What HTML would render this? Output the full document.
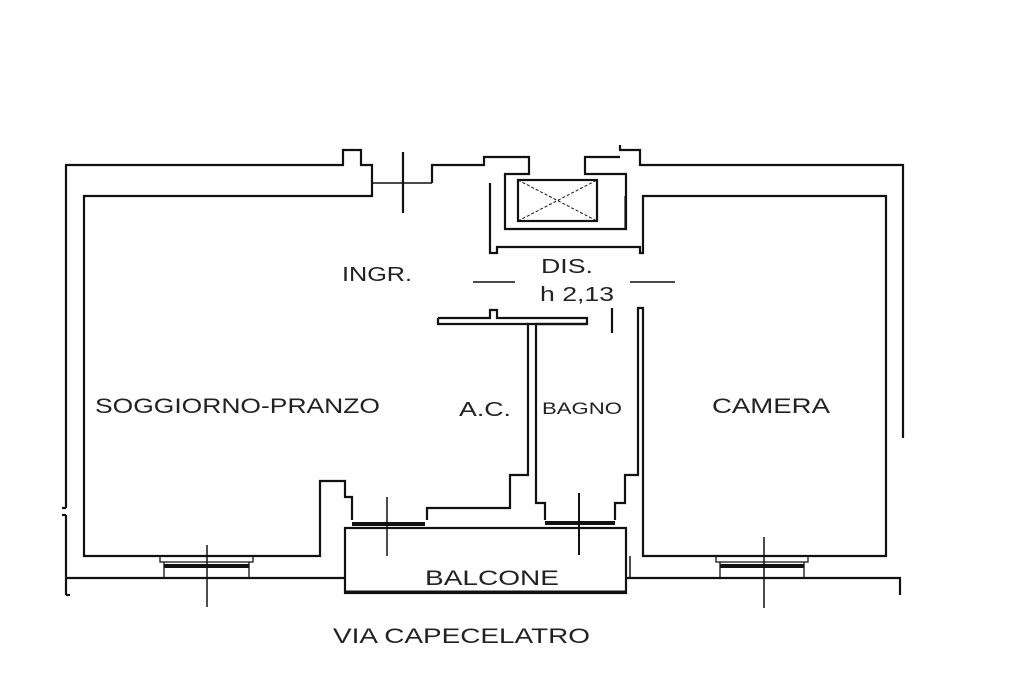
<!DOCTYPE html>
<html><head><meta charset="utf-8"><style>
html,body{margin:0;padding:0;background:#fff}
svg{display:block}
text{font-family:"Liberation Sans",sans-serif;fill:#222}
</style></head><body>
<svg width="1024" height="683" viewBox="0 0 1024 683" xmlns="http://www.w3.org/2000/svg">
<g fill="none" stroke="#111" stroke-width="2.2">
<!-- outer left/top -->
<polyline points="66,508 66,165 343,165 343,150 361,150 361,165 372,165 372,196 84,196 84,556 320,556 320,481 345,481 345,497 352,497 352,520"/>
<polyline points="66,515 66,595"/>
<line x1="66" y1="595" x2="70" y2="595"/>
<line x1="62" y1="508" x2="66" y2="508"/>
<line x1="62" y1="515" x2="66" y2="515"/>
<!-- entrance -->
<line x1="372" y1="183" x2="432" y2="183" stroke-width="1.5"/>
<line x1="403" y1="152" x2="403" y2="213"/>
<polyline points="432,183 432,165 484,165 484,157 529,157 529,174 505,174 505,229 626,229 626,174 585,174 585,157 620,157"/>
<polyline points="620,145 620,150 640,150 640,165 903,165 903,438"/>
<!-- shaft -->
<rect x="518" y="180" width="79" height="41"/>
<line x1="518" y1="180" x2="597" y2="221" stroke-width="1" stroke-dasharray="3,2"/>
<line x1="518" y1="221" x2="597" y2="180" stroke-width="1" stroke-dasharray="3,2"/>
<polyline points="490,183 490,253 497,253 497,247 640,247 640,253 643,253 643,196 886,196 886,556 643,556 643,308 638,308 638,475 625,475 625,503 615,503 615,520"/>
<line x1="625" y1="196" x2="625" y2="229" stroke-width="1.2"/>
<!-- dashed door lines -->
<line x1="473" y1="282" x2="515" y2="282" stroke-width="1.5"/>
<line x1="630" y1="282" x2="675" y2="282" stroke-width="1.5"/>
<line x1="612" y1="308" x2="612" y2="333"/>
<!-- corridor slab -->
<polyline points="438,318 490,318 490,310 497,310 497,318 587,318 587,324 536,324 536,503 545,503 545,520"/>
<polyline points="587,324 528,324 528,475 510,475 510,508 427,508 427,520"/>
<polyline points="528,324 438,324 438,318"/>
<!-- balcone -->
<rect x="345" y="528" width="281" height="65"/>
<line x1="345" y1="592" x2="626" y2="592" stroke-width="3"/>
<polyline points="66,578 345,578"/>
<polyline points="626,578 900,578 900,595"/>
<line x1="630" y1="556" x2="630" y2="578" stroke-width="1.5"/>
<!-- windows -->
<g stroke-width="1.3">
<polyline points="160,556 160,562 253,562 253,556"/>
<line x1="164" y1="562" x2="164" y2="578"/><line x1="249" y1="562" x2="249" y2="578"/>
<polyline points="716,556 716,562 808,562 808,556"/>
<line x1="720" y1="562" x2="720" y2="578"/><line x1="804" y1="562" x2="804" y2="578"/>
</g>
<line x1="164" y1="566" x2="249" y2="566" stroke-width="4"/>
<line x1="720" y1="566" x2="804" y2="566" stroke-width="4"/>
<line x1="352" y1="524" x2="425" y2="524" stroke-width="4"/>
<line x1="545" y1="523" x2="615" y2="523" stroke-width="4"/>
<g stroke-width="1.5">
<line x1="207" y1="545" x2="207" y2="607"/>
<line x1="764" y1="537" x2="764" y2="608"/>
<line x1="387" y1="497" x2="387" y2="556"/>
</g>
<line x1="579" y1="493" x2="579" y2="555" stroke-width="2"/>
</g>
<text x="95" y="413" font-size="21" textLength="285" lengthAdjust="spacingAndGlyphs">SOGGIORNO-PRANZO</text>
<text x="342" y="281" font-size="20" textLength="70" lengthAdjust="spacingAndGlyphs">INGR.</text>
<text x="541" y="273" font-size="20" textLength="52" lengthAdjust="spacingAndGlyphs">DIS.</text>
<text x="540" y="301" font-size="20" textLength="74" lengthAdjust="spacingAndGlyphs">h 2,13</text>
<text x="459" y="416" font-size="20" textLength="52" lengthAdjust="spacingAndGlyphs">A.C.</text>
<text x="542" y="414" font-size="17" textLength="80" lengthAdjust="spacingAndGlyphs">BAGNO</text>
<text x="712" y="413" font-size="21" textLength="118" lengthAdjust="spacingAndGlyphs">CAMERA</text>
<text x="425" y="585" font-size="21" textLength="134" lengthAdjust="spacingAndGlyphs">BALCONE</text>
<text x="333" y="643" font-size="21" textLength="257" lengthAdjust="spacingAndGlyphs">VIA CAPECELATRO</text>
</svg>
</body></html>
